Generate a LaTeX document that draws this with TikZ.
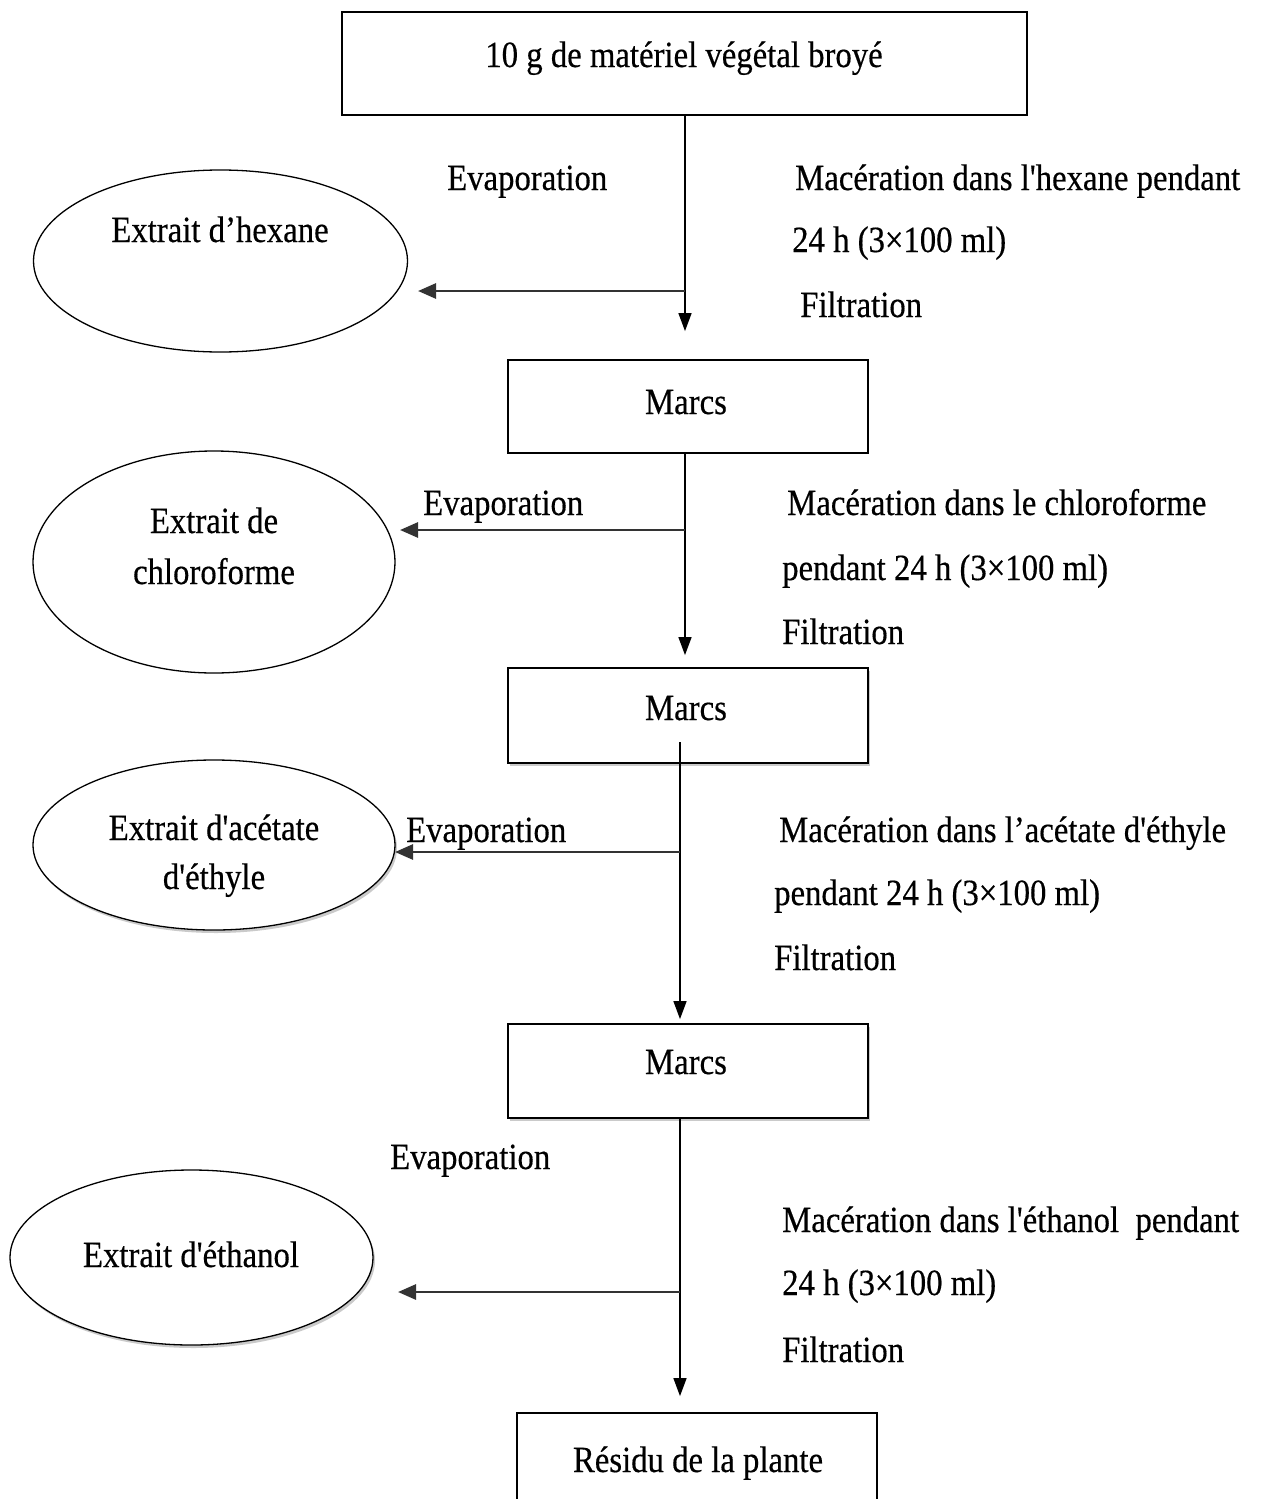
\documentclass[tikz,border=0pt]{standalone}
\usepackage{fontspec}
\setmainfont{Liberation Serif}[FakeStretch=0.885, Ligatures=TeXOff, FakeBold=0.4]
\usetikzlibrary{shapes.geometric,shadows,arrows.meta}
\begin{document}
\begin{tikzpicture}[x=1pt,y=-1pt,
  every node/.style={font=\fontsize{37}{44}\selectfont, inner sep=0pt},
  stepbox/.style={draw, line width=1.8pt, minimum width=#1, rectangle},
  extract/.style={draw, ellipse, line width=1.3pt},
  shade/.style={drop shadow={shadow xshift=2pt, shadow yshift=-3pt, opacity=0.35, fill=black!60}},
  lbl/.style={anchor=base west},
  down/.style={draw, line width=1.5pt, -{Triangle[length=18pt,width=13pt]}},
  side/.style={draw, black!80, line width=2.8pt, -{Triangle[length=18pt,width=15pt]}}
]
\useasboundingbox (0,0) rectangle (1263,1499);

% process boxes
\node[stepbox=685pt, minimum height=103pt] (top) at (684.5,63.5) {};
\node[anchor=base] (toptxt) at (684,67) {10 g de matériel végétal broyé};
\node[stepbox=360pt, minimum height=93pt] (m1) at (688,406.5) {};
\node[anchor=base] at (686,414) {Marcs};
\node[stepbox=360pt, minimum height=95pt, shade, fill=white] (m2) at (688,715.5) {};
\node[anchor=base] at (686,720) {Marcs};
\node[stepbox=360pt, minimum height=94pt, shade, fill=white] (m3) at (688,1071) {};
\node[anchor=base] at (686,1074) {Marcs};
\node[stepbox=360pt, minimum height=100pt] (res) at (697,1463) {};
\node[anchor=base] at (698,1472) {Résidu de la plante};

% extracts
\node[extract, minimum width=374pt, minimum height=182pt] (e1) at (220.5,261) {};
\node[anchor=base] at (220,242) {Extrait d’hexane};
\node[extract, minimum width=362pt, minimum height=222pt] (e2) at (214,562) {};
\node[anchor=base] at (214,533) {Extrait de};
\node[anchor=base] at (214,584) {chloroforme};
\node[extract, minimum width=362pt, minimum height=170pt, shade, fill=white] (e3) at (214,845) {};
\node[anchor=base] at (214,840) {Extrait d'acétate};
\node[anchor=base] at (214,889) {d'éthyle};
\node[extract, minimum width=363pt, minimum height=175pt, shade, fill=white] (e4) at (191.5,1257.5) {};
\node[anchor=base] at (191,1267) {Extrait d'éthanol};

% junction points on the main flow line
\coordinate (j1) at (685,291);
\coordinate (j2) at (685,530);
\coordinate (s2) at (680,742);
\coordinate (j3) at (680,852);
\coordinate (j4) at (680,1292);
\coordinate (t1) at (418,291);
\coordinate (t2) at (400,530);
\coordinate (t3) at (395,852);
\coordinate (t4) at (398,1292);

% main flow
\draw[down, shorten >=28pt] (top.south -| j1) -- (j1 |- m1.north);
\draw[down, shorten >=12pt] (m1.south -| j2) -- (j2 |- m2.north);
\draw[down, shorten >=4pt] (s2) -- (s2 |- m3.north);
\draw[down, shorten >=16pt] (m3.south -| j4) -- (j4 |- res.north);

% evaporation branches
\draw[side] (j1) -- (t1);
\draw[side] (j2) -- (t2);
\draw[side] (j3) -- (t3);
\draw[side] (j4) -- (t4);

\node[lbl] at (447,190) {Evaporation};
\node[lbl] at (423,515) {Evaporation};
\node[lbl] at (406,842) {Evaporation};
\node[lbl] at (390,1169) {Evaporation};

% maceration steps
\node[lbl] at (795,190) {Macération dans l'hexane pendant};
\node[lbl] at (792,252) {24 h (3×100 ml)};
\node[lbl] at (800,317) {Filtration};
\node[lbl] at (787,515) {Macération dans le chloroforme};
\node[lbl] at (782,580) {pendant 24 h (3×100 ml)};
\node[lbl] at (782,644) {Filtration};
\node[lbl] at (779,842) {Macération dans l’acétate d'éthyle};
\node[lbl] at (774,905) {pendant 24 h (3×100 ml)};
\node[lbl] at (774,970) {Filtration};
\node[lbl] at (782,1232) {Macération dans l'éthanol\ \ pendant};
\node[lbl] at (782,1295) {24 h (3×100 ml)};
\node[lbl] at (782,1362) {Filtration};
\end{tikzpicture}
\end{document}
